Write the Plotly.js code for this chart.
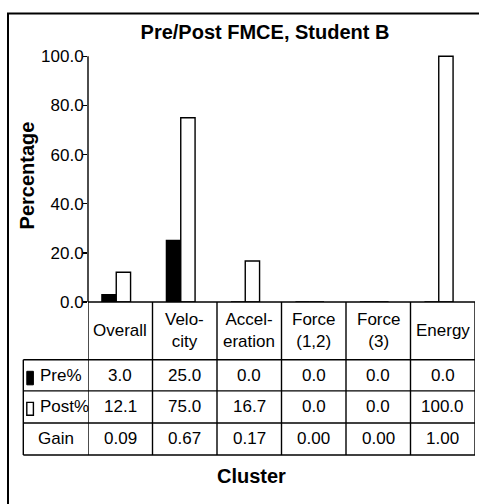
<!DOCTYPE html>
<html>
<head>
<meta charset="utf-8">
<script src="https://cdn.plot.ly/plotly-3.0.1.min.js"></script>
<style>html,body{margin:0;padding:0;background:#fff;}#chart{width:479px;height:504px;}</style>
</head>
<body>
<div id="chart"></div>
<script>
// ---- data ----
const categories = ['Overall', 'Velo-<br>city', 'Accel-<br>eration', 'Force<br>(1,2)', 'Force<br>(3)', 'Energy'];
const prePct = [3.0, 25.0, 0.0, 0.0, 0.0, 0.0];
const postPct = [12.1, 75.0, 16.7, 0.0, 0.0, 100.0];
const gain = [0.09, 0.67, 0.17, 0.00, 0.00, 1.00];
const rowLabels = ['Pre%', 'Post%', 'Gain'];
const yTicks = [0, 20, 40, 60, 80, 100];

// ---- layout helpers (pixel geometry) ----
const FONT = 'Liberation Sans, Arial, Helvetica, sans-serif';
const L = 88, R = 475, Y0 = 301.7, YTOP = 44.45;
const px = x => (x - L) / (R - L);
const py = y => (Y0 - y) / (Y0 - YTOP);
const rowEdges = [Y0, 359.3, 390.3, 422.3, 454.3];
const legendLeft = 23.3;
const lineStyle = {color: '#000', width: 1.4};

const shapes = [];
// outer chart border
shapes.push({type: 'rect', xref: 'paper', yref: 'paper', x0: px(8), x1: px(495), y0: py(14), y1: py(520), line: {color: '#000', width: 2}, fillcolor: 'rgba(0,0,0,0)'});
// y axis line (0..100)
shapes.push({type: 'line', xref: 'paper', yref: 'y', x0: 0, x1: 0, y0: 0, y1: 100, line: lineStyle});
// table vertical lines at category boundaries
for (let i = 0; i <= categories.length; i++) {
  shapes.push({type: 'line', xref: 'x', yref: 'paper', x0: i - 0.5, x1: i - 0.5, y0: py(rowEdges[0]), y1: py(rowEdges[4]), line: lineStyle});
}
// left border of row-label column
shapes.push({type: 'line', xref: 'paper', yref: 'paper', x0: px(legendLeft), x1: px(legendLeft), y0: py(rowEdges[1]), y1: py(rowEdges[4]), line: lineStyle});
// horizontal lines
shapes.push({type: 'line', xref: 'paper', yref: 'paper', x0: 0, x1: 1, y0: py(rowEdges[0]), y1: py(rowEdges[0]), line: lineStyle});
for (let r = 1; r < rowEdges.length; r++) {
  shapes.push({type: 'line', xref: 'paper', yref: 'paper', x0: px(legendLeft), x1: 1, y0: py(rowEdges[r]), y1: py(rowEdges[r]), line: lineStyle});
}
// legend keys
const keyX0 = 26.8, keyX1 = 33.4;
shapes.push({type: 'rect', xref: 'paper', yref: 'paper', x0: px(keyX0), x1: px(keyX1), y0: py(370.8), y1: py(384.3), fillcolor: '#000', line: {color: '#000', width: 1}});
shapes.push({type: 'rect', xref: 'paper', yref: 'paper', x0: px(keyX0), x1: px(keyX1), y0: py(401.8), y1: py(414.6), fillcolor: '#fff', line: {color: '#000', width: 1.4}});

const annotations = [];
const txt = {family: FONT, size: 17, color: '#000'};
const headerMid = (rowEdges[0] + rowEdges[1]) / 2;
categories.forEach((c, i) => {
  annotations.push({xref: 'x', yref: 'paper', x: i, y: py(headerMid), text: c, showarrow: false, xanchor: 'center', yanchor: 'middle', align: 'center', font: txt});
});
const rows = [prePct.map(v => v.toFixed(1)), postPct.map(v => v.toFixed(1)), gain.map(v => v.toFixed(2))];
rows.forEach((vals, r) => {
  const mid = (rowEdges[r + 1] + rowEdges[r + 2]) / 2;
  vals.forEach((v, i) => {
    annotations.push({xref: 'x', yref: 'paper', x: i, y: py(mid), text: v, showarrow: false, xanchor: 'center', yanchor: 'middle', font: txt});
  });
  const isKeyed = r < 2;
  annotations.push({xref: 'paper', yref: 'paper', x: isKeyed ? px(38) : px(56), y: py(mid), text: rowLabels[r], showarrow: false, xanchor: isKeyed ? 'left' : 'center', yanchor: 'middle', font: txt});
});
// axis titles
annotations.push({xref: 'paper', yref: 'paper', x: px(26.5), y: py(176), text: '<b>Percentage</b>', textangle: -90, showarrow: false, xanchor: 'center', yanchor: 'middle', font: {family: FONT, size: 20, color: '#000'}});
annotations.push({xref: 'paper', yref: 'paper', x: px(251.5), y: py(475), text: '<b>Cluster</b>', showarrow: false, xanchor: 'center', yanchor: 'middle', font: {family: FONT, size: 20, color: '#000'}});

const barW = 0.222, shift = -0.062;
const data = [
  {type: 'bar', name: 'Pre%', x: categories, y: prePct, width: barW, offset: shift - barW, marker: {color: '#000', line: {color: '#000', width: 1.4}}, hoverinfo: 'y'},
  {type: 'bar', name: 'Post%', x: categories, y: postPct, width: barW, offset: shift, marker: {color: '#fff', line: {color: '#000', width: 1.4}}, hoverinfo: 'y'}
];

const layout = {
  width: 479, height: 504,
  margin: {l: L, r: 479 - R, t: YTOP, b: 504 - Y0, pad: 0},
  paper_bgcolor: '#fff', plot_bgcolor: '#fff',
  showlegend: false,
  barmode: 'group',
  title: {text: '<b>Pre/Post FMCE, Student B</b>', font: {family: FONT, size: 20, color: '#000'}, xref: 'container', yref: 'container', x: 265 / 479, xanchor: 'center', y: 1 - 32.3 / 504, yanchor: 'middle'},
  xaxis: {type: 'category', range: [-0.5, categories.length - 0.5], showticklabels: false, ticks: '', showgrid: false, zeroline: false, showline: false, fixedrange: true},
  yaxis: {range: [0, 105], tickvals: yTicks, tickformat: '.1f', ticks: 'outside', ticklen: 4, tickwidth: 1.3, tickcolor: '#000', tickfont: {family: FONT, size: 17, color: '#000'}, showgrid: false, zeroline: false, showline: false, fixedrange: true, ticklabelstandoff: -4},
  shapes: shapes,
  annotations: annotations
};

Plotly.newPlot('chart', data, layout, {displayModeBar: false, staticPlot: true});
</script>
</body>
</html>
